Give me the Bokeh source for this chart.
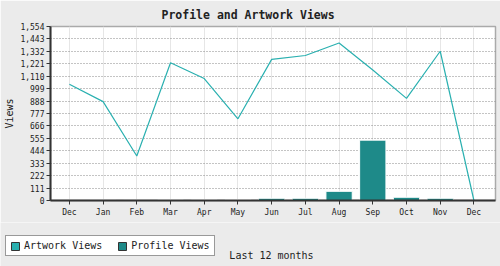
from bokeh.plotting import figure
from bokeh.layouts import column
from bokeh.models import (FixedTicker, NumeralTickFormatter, Legend, LegendItem,
                          Range1d, Title, ColumnDataSource, Label)
from bokeh.embed import file_html
from bokeh.resources import INLINE

months = ["Dec", "Jan", "Feb", "Mar", "Apr", "May", "Jun", "Jul", "Aug", "Sep", "Oct", "Nov", "Dec"]
artwork_views = [1039, 883, 397, 1230, 1089, 730, 1260, 1295, 1407, 1165, 912, 1333, 0]
profile_views = [0, 3, 3, 9, 9, 9, 20, 20, 82, 539, 29, 20, 0]
y_ticks = [0, 111, 222, 333, 444, 555, 666, 777, 888, 999, 1110, 1221, 1332, 1443, 1554]

FONT = "DejaVu Sans Mono"
BG = "#ebebeb"
ART_C = "#2ab0b0"
PROF_C = "#1e8a89"
idx = list(range(len(months)))
src = ColumnDataSource(dict(x=idx, art=artwork_views, prof=profile_views))

p = figure(width=500, height=222, output_backend="svg", toolbar_location=None,
           x_range=Range1d(-0.56, len(months) - 0.36), y_range=Range1d(0, 1554),
           min_border_left=50, min_border_right=5, min_border_top=24, min_border_bottom=22)
p.frame_align = False
p.background_fill_color = "white"
p.border_fill_color = BG
p.outline_line_color = "#aaaaaa"
p.outline_line_width = 1.5

p.title = Title(text="Profile and Artwork Views", align="left", offset=111,
                text_font=FONT, text_font_size="11.5px", text_font_style="bold",
                text_color="#222222")

p.vbar(x="x", top="prof", width=0.78, source=src, fill_color=PROF_C,
       line_color="white", line_width=1)
p.line(x="x", y="art", source=src, line_color=ART_C, line_width=1.2)

p.xaxis.ticker = FixedTicker(ticks=idx)
p.xaxis.major_label_overrides = {i: m for i, m in enumerate(months)}
p.yaxis.ticker = FixedTicker(ticks=y_ticks)
p.yaxis.formatter = NumeralTickFormatter(format="0,0")
for ax in (p.xaxis[0], p.yaxis[0]):
    ax.axis_line_color = "#333333"
    ax.axis_line_width = 2
    ax.major_tick_line_color = "#333333"
    ax.major_tick_in = 0
    ax.major_tick_out = 4
    ax.minor_tick_line_color = None
    ax.major_label_text_font = FONT
    ax.major_label_text_font_size = "8px"
    ax.major_label_text_color = "#222222"
    ax.axis_label_text_font = FONT
    ax.axis_label_text_font_size = "10px"
    ax.axis_label_text_font_style = "normal"
    ax.axis_label_text_color = "#222222"
p.xaxis.major_label_standoff = 3
p.yaxis.major_label_standoff = 2
p.yaxis.axis_label = "Views"
p.yaxis.axis_label_standoff = 2

p.xgrid.grid_line_color = "#e6e6e6"
p.xgrid.grid_line_width = 1
p.xgrid.ticker = FixedTicker(ticks=idx)
p.ygrid.grid_line_color = "#888888"
p.ygrid.grid_line_dash = "1 2"
p.ygrid.grid_line_width = 1

# bottom strip with legend and x-axis caption
q = figure(width=500, height=44, output_backend="svg", toolbar_location=None,
           x_range=Range1d(0, 1), y_range=Range1d(0, 1),
           x_axis_location=None, y_axis_location=None,
           min_border_left=0, min_border_right=0, min_border_top=0, min_border_bottom=0)
q.frame_align = False
q.background_fill_color = BG
q.border_fill_color = BG
q.outline_line_color = None
q.grid.visible = False
proxy_art = q.vbar(x="x", top="art", width=0.8, source=src, fill_color=ART_C,
                   line_color="#333333", visible=False)
proxy_prof = q.vbar(x="x", top="prof", width=0.8, source=src, fill_color=PROF_C,
                    line_color="#333333", visible=False)

legend = Legend(items=[LegendItem(label="Artwork Views", renderers=[proxy_art]),
                       LegendItem(label="Profile Views", renderers=[proxy_prof])],
                location=(5, 10), orientation="horizontal",
                label_text_font=FONT, label_text_font_size="10px", label_text_color="#222222",
                glyph_width=10, glyph_height=10, label_standoff=4, spacing=15,
                padding=4, margin=0, border_line_color="#333333", border_line_width=1.5,
                background_fill_color="white", background_fill_alpha=1,
                inactive_fill_alpha=0, label_height=10)
q.add_layout(legend, "center")
q.add_layout(Label(x=271, y=11, x_units="screen", y_units="screen", text="Last 12 months",
                   text_font=FONT, text_font_size="10px", text_color="#222222",
                   text_align="center", text_baseline="middle"))

open("out.html", "w").write(file_html(column(p, q, spacing=0), INLINE))
